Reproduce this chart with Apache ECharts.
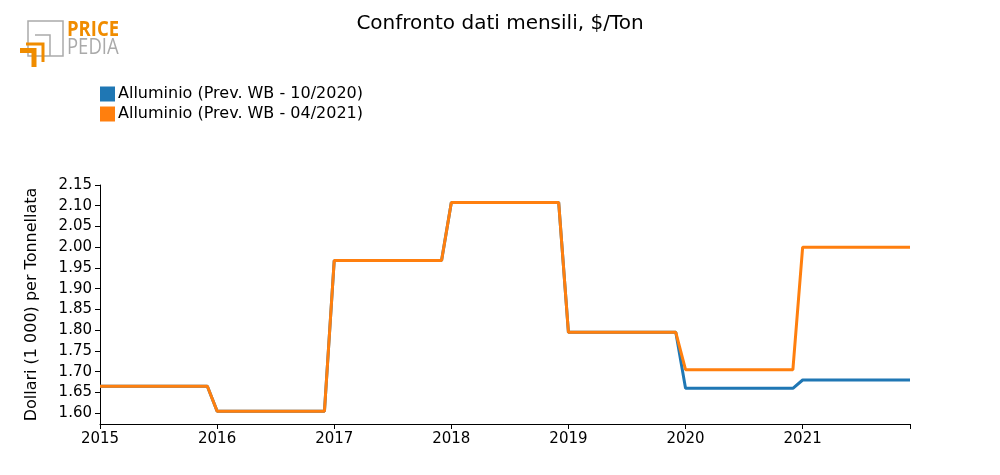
<!DOCTYPE html>
<html>
<head>
<meta charset="utf-8">
<script src="https://cdn.jsdelivr.net/npm/echarts@6/dist/echarts.min.js"></script>
<style>html,body{margin:0;padding:0;background:#fff}#c{width:1000px;height:475px}</style>
</head>
<body>
<div id="c"></div>
<script>
var years = ['2015','2016','2017','2018','2019','2020','2021'];
var months = ['01','02','03','04','05','06','07','08','09','10','11','12'];
var seriesNames = ['Alluminio (Prev. WB - 10/2020)', 'Alluminio (Prev. WB - 04/2021)'];
var yTicks = [1.60,1.65,1.70,1.75,1.80,1.85,1.90,1.95,2.00,2.05,2.10,2.15];

var wb102020 = [
  1.665,1.665,1.665,1.665,1.665,1.665,1.665,1.665,1.665,1.665,1.665,1.665,
  1.605,1.605,1.605,1.605,1.605,1.605,1.605,1.605,1.605,1.605,1.605,1.605,
  1.968,1.968,1.968,1.968,1.968,1.968,1.968,1.968,1.968,1.968,1.968,1.968,
  2.108,2.108,2.108,2.108,2.108,2.108,2.108,2.108,2.108,2.108,2.108,2.108,
  1.795,1.795,1.795,1.795,1.795,1.795,1.795,1.795,1.795,1.795,1.795,1.795,
  1.660,1.660,1.660,1.660,1.660,1.660,1.660,1.660,1.660,1.660,1.660,1.660,
  1.680,1.680,1.680,1.680,1.680,1.680,1.680,1.680,1.680,1.680,1.680,1.680
];
var wb042021 = [
  1.665,1.665,1.665,1.665,1.665,1.665,1.665,1.665,1.665,1.665,1.665,1.665,
  1.605,1.605,1.605,1.605,1.605,1.605,1.605,1.605,1.605,1.605,1.605,1.605,
  1.968,1.968,1.968,1.968,1.968,1.968,1.968,1.968,1.968,1.968,1.968,1.968,
  2.108,2.108,2.108,2.108,2.108,2.108,2.108,2.108,2.108,2.108,2.108,2.108,
  1.795,1.795,1.795,1.795,1.795,1.795,1.795,1.795,1.795,1.795,1.795,1.795,
  1.705,1.705,1.705,1.705,1.705,1.705,1.705,1.705,1.705,1.705,1.705,1.705,
  2.000,2.000,2.000,2.000,2.000,2.000,2.000,2.000,2.000,2.000,2.000,2.000
];

var categories = [];
years.forEach(function(y){ months.forEach(function(m){ categories.push(y + '-' + m); }); });
var lastIdx = categories.length - 1;

var chart = echarts.init(document.getElementById('c'), null, {renderer: 'canvas'});
var font = 'DejaVu Sans';
chart.setOption({
  animation: false,
  backgroundColor: '#ffffff',
  textStyle: {fontFamily: font},
  title: {
    text: 'Confronto dati mensili, $/Ton',
    left: 'center', top: 9,
    textStyle: {fontFamily: font, fontSize: 20, fontWeight: 'normal', color: '#000'}
  },
  legend: {
    orient: 'vertical', left: 100, top: 86, itemGap: 4, padding: 0,
    itemWidth: 15, itemHeight: 15, icon: 'rect',
    textStyle: {fontFamily: font, fontSize: 16, color: '#000', padding: [0,0,0,-2]},
    data: seriesNames
  },
  graphic: [
    {type: 'rect', shape: {x: 28, y: 21, width: 35, height: 35}, style: {fill: 'none', stroke: '#aaaaaa', lineWidth: 1.5}},
    {type: 'polyline', shape: {points: [[35,35],[50,35],[50,56]]}, style: {fill: 'none', stroke: '#aaaaaa', lineWidth: 1.5}},
    {type: 'polyline', shape: {points: [[26,44],[43,44],[43,62]]}, style: {fill: 'none', stroke: '#f08c00', lineWidth: 3}},
    {type: 'polyline', shape: {points: [[20,50.5],[34,50.5],[34,67]]}, style: {fill: 'none', stroke: '#f08c00', lineWidth: 5}},
    {type: 'text', x: 67, y: 20, scaleX: 0.88, style: {text: 'PRICE', fontFamily: 'Open Sans', fontWeight: 'bold', fontSize: 21, fill: '#f08c00'}},
    {type: 'text', x: 67, y: 38, scaleX: 0.88, style: {text: 'PEDIA', fontFamily: 'Open Sans', fontSize: 21, fill: '#aaaaaa'}}
  ],
  grid: {left: 100, right: 90, top: 185, bottom: 51, containLabel: false},
  xAxis: {
    type: 'category', data: categories, boundaryGap: false,
    axisLine: {show: true, lineStyle: {color: '#000', width: 1}},
    axisTick: {show: true, length: 5, lineStyle: {color: '#000'},
      interval: function(i){ return i % 12 === 0 || i === lastIdx; }},
    axisLabel: {show: true, color: '#000', fontFamily: font, fontSize: 15, margin: 8,
      interval: function(i){ return i % 12 === 0; },
      formatter: function(v){ return v.slice(0,4); }},
    splitLine: {show: false}
  },
  yAxis: {
    type: 'value', min: 1.574, max: 2.15,
    name: 'Dollari (1 000) per Tonnellata', nameLocation: 'middle', nameGap: 60,
    nameTextStyle: {fontFamily: font, fontSize: 16, color: '#000'},
    axisLine: {show: true, lineStyle: {color: '#000', width: 1}},
    axisTick: {show: true, length: 5, lineStyle: {color: '#000'}, customValues: yTicks},
    axisLabel: {show: true, color: '#000', fontFamily: font, fontSize: 15, margin: 8,
      customValues: yTicks, formatter: function(v){ return v.toFixed(2); }},
    splitLine: {show: false}
  },
  series: [
    {name: seriesNames[0], type: 'line', data: wb102020, showSymbol: false, symbol: 'none',
      lineStyle: {color: '#1f77b4', width: 3}, itemStyle: {color: '#1f77b4'}, z: 2},
    {name: seriesNames[1], type: 'line', data: wb042021, showSymbol: false, symbol: 'none',
      lineStyle: {color: '#ff7f0e', width: 3}, itemStyle: {color: '#ff7f0e'}, z: 3}
  ]
});
</script>
</body>
</html>
